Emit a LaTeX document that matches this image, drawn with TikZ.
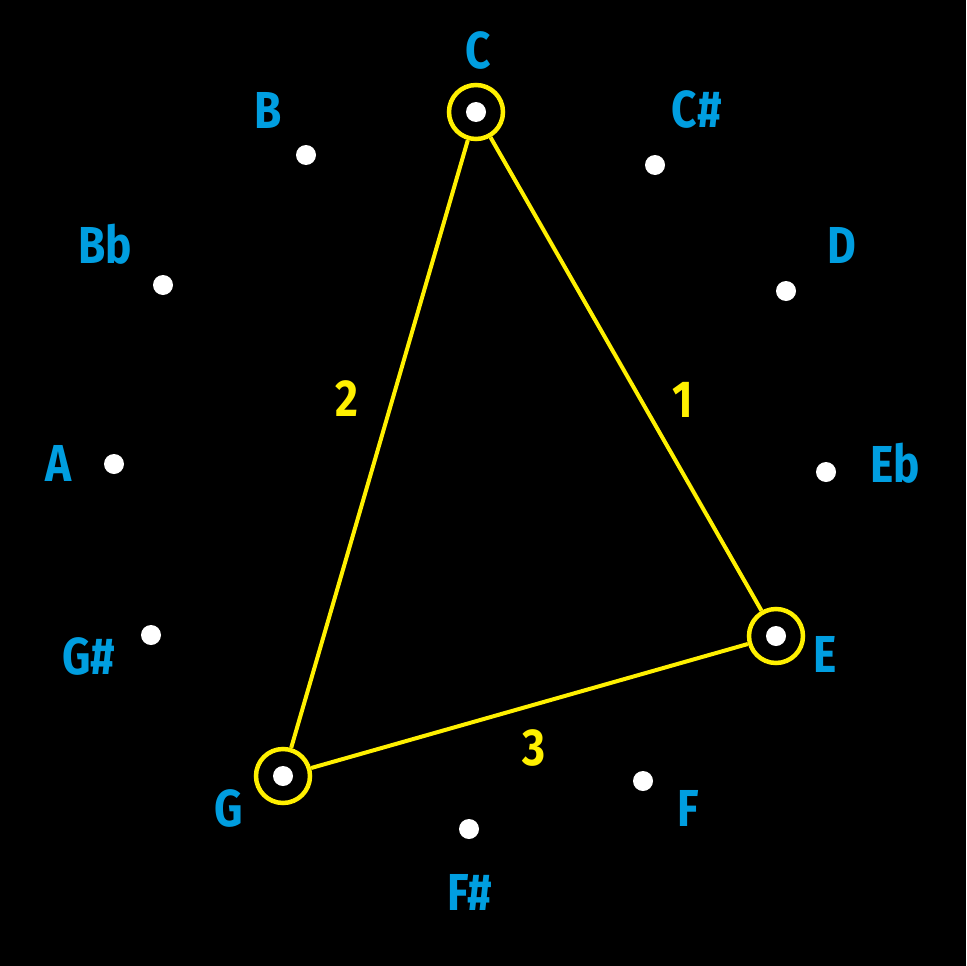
\documentclass[tikz,border=0pt]{standalone}
\usepackage{fontspec}
\setmainfont[FakeStretch=0.85]{Fira Sans}
\definecolor{noteblue}{RGB}{0,158,224}
\definecolor{triyellow}{RGB}{255,240,0}
\begin{document}
\begin{tikzpicture}[x=1pt,y=-1pt,
  dot/.style={circle,fill=white,inner sep=0pt,minimum size=20pt},
  ring/.style={circle,draw=triyellow,line width=4.5pt,inner sep=0pt,minimum size=54pt},
  notelabel/.style={anchor=base,text=noteblue,font=\fontsize{52}{60}\selectfont\bfseries,inner sep=0pt},
  numlabel/.style={anchor=base,text=triyellow,font=\fontsize{52}{60}\selectfont\bfseries,inner sep=0pt},
  edge/.style={draw=triyellow,line width=4pt}]
\fill[black] (0,0) rectangle (966,966);
\useasboundingbox (0,0) rectangle (966,966);
% dots
\node[dot] (dC) at (476,112) {};
\node[dot] (dCs) at (655,165) {};
\node[dot] (dD) at (786,291) {};
\node[dot] (dEb) at (826,472) {};
\node[dot] (dE) at (776,636) {};
\node[dot] (dF) at (643,781) {};
\node[dot] (dFs) at (469,829) {};
\node[dot] (dG) at (283,776) {};
\node[dot] (dGs) at (151,635) {};
\node[dot] (dA) at (114,464) {};
\node[dot] (dBb) at (163,285) {};
\node[dot] (dB) at (306,155) {};
% rings
\node[ring] (rC) at (476,112) {};
\node[ring] (rE) at (776,636) {};
\node[ring] (rG) at (283,776) {};
% triangle
\draw[edge] (rC) -- (rE);
\draw[edge] (rE) -- (rG);
\draw[edge] (rG) -- (rC);
% note labels (baseline = cap centre + 18)
\node[notelabel] (lC) at (478,68.5) {C};
\node[notelabel] (lCs) at (697,127.5) {C\#};
\node[notelabel] (lD) at (842,263) {D};
\node[notelabel] (lEb) at (895,482) {Eb};
\node[notelabel] (lE) at (825,672.5) {E};
\node[notelabel] (lF) at (688,826) {F};
\node[notelabel] (lFs) at (470,910) {F\#};
\node[notelabel] (lG) at (229,826) {G};
\node[notelabel] (lGs) at (89,674) {G\#};
\node[notelabel] (lA) at (59,481.5) {A};
\node[notelabel] (lBb) at (105,263) {Bb};
\node[notelabel] (lB) at (268,128) {B};
% interval numbers
\node[numlabel] (n1) at (683,417) {1};
\node[numlabel] (n2) at (347,416) {2};
\node[numlabel] (n3) at (534,765) {3};
\end{tikzpicture}
\end{document}
